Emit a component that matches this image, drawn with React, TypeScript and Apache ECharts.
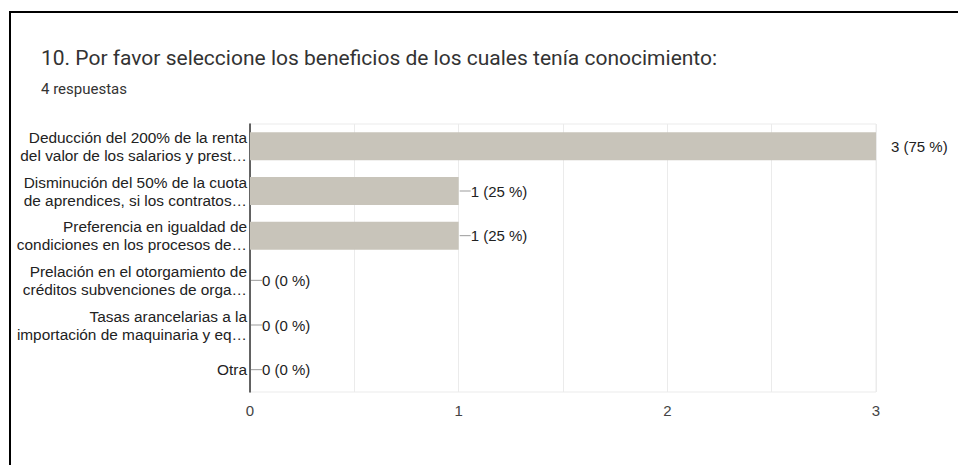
import React, { useEffect, useRef } from 'react';
import * as echarts from 'echarts';

const title = '10. Por favor seleccione los beneficios de los cuales tenía conocimiento:';
const subtitle = '4 respuestas';
const categories = [
  'Deducción del 200% de la renta\ndel valor de los salarios y prest…',
  'Disminución del 50% de la cuota\nde aprendices, si los contratos…',
  'Preferencia en igualdad de\ncondiciones en los procesos de…',
  'Prelación en el otorgamiento de\ncréditos subvenciones de orga…',
  'Tasas arancelarias a la\nimportación de maquinaria y eq…',
  'Otra',
];
const counts = [3, 1, 1, 0, 0, 0];
const totalResponses = 4;
const xMin = 0;
const xMax = 3;

export default function App() {
  const ref = useRef<HTMLDivElement>(null);
  useEffect(() => {
    if (!ref.current) return;
    const chart = echarts.init(ref.current, undefined, { renderer: 'svg' });
    const maxVal = Math.max(...counts);
    const labelText = (v: number) => `${v} (${Math.round((v / totalResponses) * 100)} %)`;
    chart.setOption({
      animation: false,
      backgroundColor: '#ffffff',
      title: [
        {
          text: title,
          left: 36,
          top: 42,
          textStyle: { fontFamily: 'Roboto', fontSize: 21, fontWeight: 'normal', color: '#333333' },
        },
        {
          text: subtitle,
          left: 36,
          top: 76,
          textStyle: { fontFamily: 'Roboto', fontSize: 15, fontWeight: 'normal', color: '#333333' },
        },
      ],
      graphic: [
        {
          type: 'rect',
          z: -10,
          shape: { x: 10, y: 12, width: 1200, height: 900 },
          style: { fill: 'none', stroke: '#000000', lineWidth: 2 },
        },
      ],
      grid: {
        left: 250,
        right: 82,
        top: 124,
        bottom: 73,
        show: true,
        borderColor: '#ebebeb',
        borderWidth: 1,
      },
      xAxis: {
        type: 'value',
        min: xMin,
        max: xMax,
        interval: 0.5,
        axisLine: { show: false },
        axisTick: { show: false },
        splitLine: { show: true, lineStyle: { color: '#ebebeb', width: 1 } },
        axisLabel: {
          margin: 11,
          fontFamily: 'Liberation Sans',
          fontSize: 15,
          color: '#444444',
          formatter: (v: number) => (Number.isInteger(v) ? String(v) : ''),
        },
      },
      yAxis: {
        type: 'category',
        inverse: true,
        data: categories,
        axisLine: { show: true, lineStyle: { color: '#333333', width: 1.5 } },
        axisTick: { show: false },
        splitLine: { show: false },
        axisLabel: {
          margin: 3,
          fontFamily: 'Liberation Sans',
          fontSize: 15.4,
          lineHeight: 18,
          color: '#222222',
          align: 'right',
        },
      },
      series: [
        {
          type: 'bar',
          barWidth: 28,
          itemStyle: { color: '#c8c4ba' },
          data: counts.map((v) => ({
            value: v,
            label:
              v === maxVal
                ? { distance: 15, formatter: `{t|${labelText(v)}}` }
                : { distance: 1, formatter: `{l|}{t|${labelText(v)}}` },
          })),
          label: {
            show: true,
            position: 'right',
            rich: {
              l: { width: 11, height: 1, backgroundColor: '#9a9a9a' },
              t: {
                fontFamily: 'Liberation Sans',
                fontSize: 15,
                color: '#222222',
                padding: [0, 0, 0, 0],
              },
            },
          },
        },
      ],
    });
    return () => chart.dispose();
  }, []);
  return (
    <div
      ref={ref}
      style={{ position: 'fixed', left: 0, top: 0, width: 958, height: 465, background: '#fff' }}
    />
  );
}
